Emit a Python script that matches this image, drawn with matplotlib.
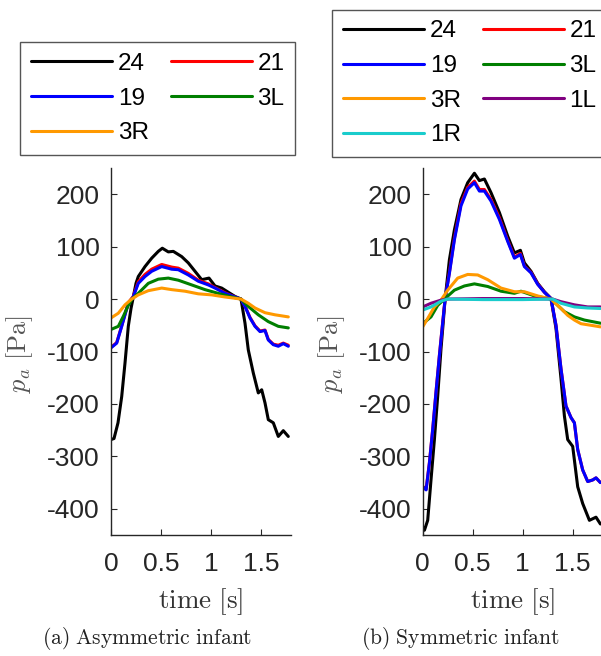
import matplotlib
matplotlib.use("Agg")
import matplotlib.pyplot as plt

plt.rcParams['font.family'] = ['Liberation Sans', 'DejaVu Sans']
plt.rcParams['mathtext.fontset'] = 'cm'
plt.rcParams['axes.unicode_minus'] = False

# ---------------- data: (a) asymmetric infant ----------------
a24_t = [0, 0.03, 0.07, 0.107, 0.14, 0.173, 0.2, 0.222, 0.25, 0.273, 0.34, 0.407, 0.473, 0.513,
         0.573, 0.623, 0.707, 0.773, 0.84, 0.907, 0.98, 1.04, 1.107, 1.173, 1.24, 1.30, 1.34,
         1.373, 1.423, 1.473, 1.507, 1.54, 1.573, 1.623, 1.673, 1.723, 1.773]
a24_p = [-268, -266, -236, -186, -122, -52, -18, 3, 30, 43, 62, 78, 91, 97,
         90, 91, 81, 69, 53, 37, 40, 25, 21, 13, 5, 0, -46,
         -97, -141, -179, -173, -198, -230, -236, -262, -251, -262]

a19_t = [0, 0.057, 0.107, 0.173, 0.222, 0.273, 0.34, 0.407, 0.507, 0.607, 0.673, 0.773, 0.873,
         0.973, 1.04, 1.14, 1.24, 1.30, 1.34, 1.39, 1.44, 1.49, 1.54, 1.573, 1.623, 1.673, 1.723, 1.773]
a19_p = [-93, -84, -52, -8, 4, 30, 43, 53, 62, 57, 56, 46, 34,
         27, 21, 11, 4, 0, -14, -36, -52, -62, -60, -78, -87, -90, -85, -90]

a21_t = [0, 0.057, 0.107, 0.173, 0.222, 0.273, 0.34, 0.407, 0.507, 0.607, 0.673, 0.773, 0.873,
         0.973, 1.04, 1.14, 1.24, 1.30, 1.34, 1.39, 1.44, 1.49, 1.54, 1.573, 1.623, 1.673, 1.723, 1.773]
a21_p = [-92, -83, -51, -7, 5, 33, 47, 57, 66, 61, 59, 49, 36,
         29, 22, 12, 4, 0, -13, -35, -51, -61, -59, -77, -86, -88, -84, -88]

a3L_t = [0, 0.073, 0.123, 0.173, 0.21, 0.273, 0.373, 0.473, 0.573, 0.673, 0.807, 0.94, 1.07,
         1.207, 1.30, 1.373, 1.473, 1.573, 1.673, 1.773]
a3L_p = [-58, -52, -33, -12, 0, 11, 30, 38, 40, 36, 27, 18, 11,
         4, 0, -14, -30, -43, -52, -55]

a3R_t = [0, 0.073, 0.14, 0.207, 0.273, 0.373, 0.507, 0.607, 0.74, 0.873, 1.007, 1.14, 1.30,
         1.373, 1.44, 1.54, 1.64, 1.707, 1.773]
a3R_p = [-36, -27, -11, 0, 8, 16, 21, 18, 15, 10, 8, 4, 0,
         -8, -17, -26, -30, -32, -34]

# ---------------- data: (b) symmetric infant ----------------
b24_t = [0, 0.017, 0.05, 0.083, 0.117, 0.15, 0.183, 0.205, 0.224, 0.25, 0.267, 0.317, 0.383,
         0.45, 0.517, 0.567, 0.617, 0.683, 0.767, 0.85, 0.917, 0.977, 1.017, 1.083, 1.15, 1.217,
         1.283, 1.333, 1.383, 1.417, 1.45, 1.5, 1.55, 1.6, 1.667, 1.733, 1.777]
b24_p = [-435, -441, -422, -345, -268, -185, -95, -45, 0, 45, 75, 132, 190,
         222, 240, 226, 229, 203, 165, 120, 88, 93, 69, 53, 30, 14,
         1, -56, -152, -223, -268, -281, -358, -390, -422, -416, -429]

b19_t = [0, 0.034, 0.067, 0.1, 0.133, 0.167, 0.2, 0.224, 0.267, 0.317, 0.383, 0.45, 0.517,
         0.567, 0.617, 0.683, 0.767, 0.85, 0.917, 0.977, 1.017, 1.083, 1.15, 1.217, 1.283,
         1.333, 1.383, 1.433, 1.483, 1.517, 1.55, 1.6, 1.65, 1.7, 1.733, 1.777]
b19_p = [-358, -364, -313, -249, -178, -108, -45, 0, 49, 113, 178, 210, 222,
         206, 206, 187, 152, 110, 78, 85, 62, 50, 28, 13, 1,
         -50, -133, -204, -226, -236, -287, -326, -348, -345, -341, -350]

b21_t = [0, 0.034, 0.067, 0.1, 0.133, 0.167, 0.2, 0.224, 0.267, 0.317, 0.383, 0.45, 0.517,
         0.567, 0.617, 0.683, 0.767, 0.85, 0.917, 0.977, 1.017, 1.083, 1.15, 1.217, 1.283,
         1.333, 1.383, 1.433, 1.483, 1.517, 1.55, 1.6, 1.65, 1.7, 1.733, 1.777]
b21_p = [-357, -363, -312, -248, -177, -107, -44, 0, 51, 116, 182, 213, 225,
         209, 209, 190, 155, 112, 80, 87, 63, 51, 29, 13, 1,
         -50, -133, -204, -226, -236, -287, -326, -348, -345, -341, -350]

b3R_t = [0, 0.05, 0.117, 0.183, 0.25, 0.35, 0.45, 0.55, 0.65, 0.783, 0.917, 1.017, 1.15,
         1.283, 1.383, 1.45, 1.517, 1.583, 1.683, 1.777]
b3R_p = [-53, -37, -15, -2, 17, 40, 47, 46, 37, 21, 14, 14, 6,
         0, -18, -31, -40, -47, -50, -53]

b3L_t = [0, 0.083, 0.15, 0.217, 0.317, 0.417, 0.517, 0.65, 0.783, 0.917, 0.983, 1.117, 1.283,
         1.417, 1.517, 1.617, 1.777]
b3L_p = [-47, -34, -12, 0, 17, 25, 29, 24, 15, 11, 15, 6, 0,
         -24, -34, -40, -46]

b1L_t = [0, 0.083, 0.183, 0.25, 0.6, 1.0, 1.3, 1.383, 1.517, 1.65, 1.777]
b1L_p = [-15, -8, -2, 0, 1, 1, 0, -5, -11, -15, -15]

b1R_t = [0, 0.083, 0.183, 0.25, 0.6, 1.0, 1.3, 1.383, 1.517, 1.65, 1.777]
b1R_p = [-21, -15, -4, 0, -1, -1, 0, -8, -15, -17, -18]

labels_a = ['24', '21', '19', '3L', '3R']
labels_b = ['24', '21', '19', '3L', '3R', '1L', '1R']
colors = {'24': 'black', '21': '#ff0000', '19': '#0000ff', '3L': '#007f00',
          '3R': '#ff9900', '1L': '#800080', '1R': '#1acccc'}

yticks = [-400, -300, -200, -100, 0, 100, 200]
xticks = [0, 0.5, 1, 1.5]
xticklabels = ['0', '0.5', '1', '1.5']
captions = [r'$\mathrm{(a)\ Asymmetric\ infant}$', r'$\mathrm{(b)\ Symmetric\ infant}$']

W, H = 601, 656
fig = plt.figure(figsize=(W / 100, H / 100), dpi=100)

axL = fig.add_axes([111 / W, (H - 535) / H, 180 / W, 367 / H])
axR = fig.add_axes([422.7 / W, (H - 535) / H, 180 / W, 367 / H])

series_a = {'24': (a24_t, a24_p), '21': (a21_t, a21_p), '19': (a19_t, a19_p),
            '3L': (a3L_t, a3L_p), '3R': (a3R_t, a3R_p)}
series_b = {'24': (b24_t, b24_p), '21': (b21_t, b21_p), '19': (b19_t, b19_p),
            '3L': (b3L_t, b3L_p), '3R': (b3R_t, b3R_p), '1L': (b1L_t, b1L_p),
            '1R': (b1R_t, b1R_p)}

axis_col = '#262626'


def style(ax):
    ax.set_xlim(0, 1.8)
    ax.set_ylim(-450, 250)
    ax.set_xticks(xticks)
    ax.set_xticklabels(xticklabels)
    ax.set_yticks(yticks)
    ax.set_yticklabels([str(v) for v in yticks])
    for s in ['top', 'right']:
        ax.spines[s].set_visible(False)
    for s in ['left', 'bottom']:
        ax.spines[s].set_color(axis_col)
        ax.spines[s].set_linewidth(1.0)
    ax.tick_params(axis='both', direction='in', length=4, width=0.8,
                   colors=axis_col, labelsize=19)
    ax.tick_params(axis='x', pad=12)
    ax.tick_params(axis='y', pad=8)
    ax.set_ylabel(r'$p_a\ \mathrm{[Pa]}$', fontsize=19, color='#555555')
    ax.set_xlabel(r'$\mathrm{time\ [s]}$', fontsize=19.5, color='#333333')
    ax.yaxis.set_label_coords(-0.42, 0.493)
    ax.xaxis.set_label_coords(0.5, -0.14)


def draw(ax, series, labels):
    handles = {}
    for lab in labels:
        t, p = series[lab]
        h, = ax.plot(t, p, color=colors[lab], lw=2.2, label=lab, solid_capstyle='round')
        handles[lab] = h
    return handles


hA = draw(axL, series_a, labels_a)
hB = draw(axR, series_b, labels_b)
style(axL)
style(axR)

leg_kw = dict(ncol=2, loc='upper left', bbox_transform=fig.transFigure, fontsize=17.5,
              handlelength=3.35, handletextpad=0.22, columnspacing=0.9, labelspacing=0.52,
              borderpad=0.45, borderaxespad=0, frameon=True, fancybox=False,
              framealpha=1, edgecolor='#555555')

orderA = ['24', '19', '3R', '21', '3L']
legA = axL.legend([hA[k] for k in orderA], orderA, bbox_to_anchor=(20 / W, 1 - 42 / H), **leg_kw)
legA.get_frame().set_linewidth(1.0)
orderB = ['24', '19', '3R', '1R', '21', '3L', '1L']
legB = axR.legend([hB[k] for k in orderB], orderB, bbox_to_anchor=(332 / W, 1 - 9.5 / H), **leg_kw)
legB.get_frame().set_linewidth(1.0)

fig.text(147 / W, 1 - 638 / H, captions[0], ha='center', va='center', fontsize=15.5, color='#222222')
fig.text(460 / W, 1 - 638 / H, captions[1], ha='center', va='center', fontsize=15.5, color='#222222')

fig.savefig('out.png', dpi=100)
